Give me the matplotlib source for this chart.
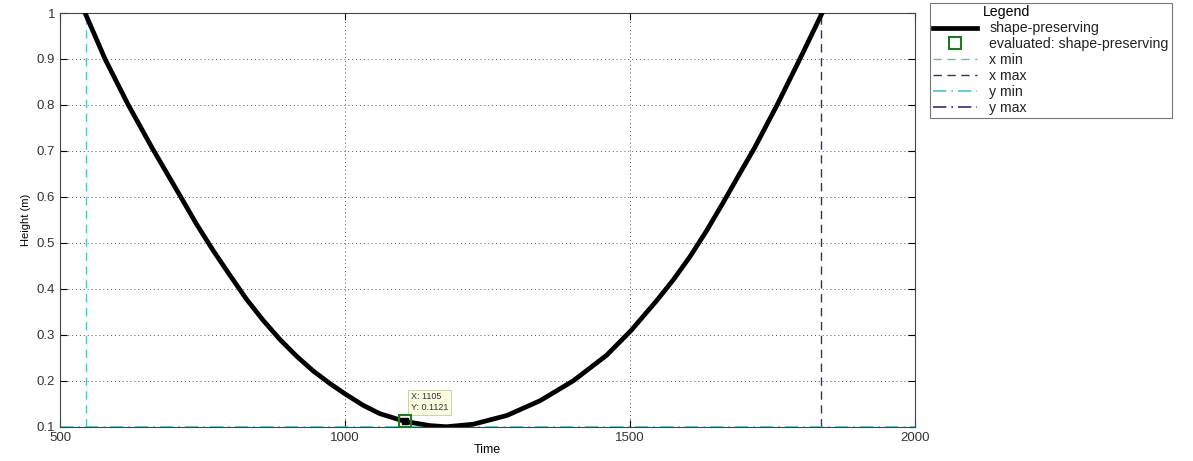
import matplotlib.pyplot as plt

plt.rcParams['font.family'] = ['Liberation Sans', 'DejaVu Sans']

# curve values
time = [544, 579, 619, 661, 710, 740, 769, 798, 827, 857, 886, 915, 944, 974,
        1000, 1032, 1061, 1105, 1149, 1178, 1225, 1284, 1342, 1400, 1459, 1502,
        1547, 1576, 1605, 1634, 1663, 1692, 1719, 1758, 1798, 1837]
height = [1.0, 0.9, 0.802, 0.708, 0.604, 0.540, 0.483, 0.430, 0.378, 0.331, 0.290,
          0.254, 0.222, 0.194, 0.172, 0.147, 0.129, 0.1121, 0.103, 0.1005, 0.106,
          0.125, 0.157, 0.200, 0.256, 0.310, 0.375, 0.420, 0.470, 0.526, 0.587,
          0.650, 0.708, 0.800, 0.9, 1.0]

tip_x, tip_y = 1105, 0.1121
x_min, x_max = 545, 1835
y_min, y_max = 0.1, 1.0

xticks = [500, 1000, 1500, 2000]
yticks = [0.1, 0.2, 0.3, 0.4, 0.5, 0.6, 0.7, 0.8, 0.9, 1.0]
ytick_labels = ['0.1', '0.2', '0.3', '0.4', '0.5', '0.6', '0.7', '0.8', '0.9', '1']

cyan = '#52c1c9'
navy = '#2e2e80'

fig = plt.figure(figsize=(11.93, 4.61), dpi=100)
ax = fig.add_axes([0.0503, 0.0738, 0.7167, 0.898])

ax.plot(time, height, color='black', lw=3.4, label='shape-preserving', zorder=5,
        solid_joinstyle='round')
ax.plot([tip_x], [tip_y], ls='none', marker='s', ms=9, mfc='none', mec='#1e7a1e',
        mew=1.5, label='evaluated: shape-preserving', zorder=6)
ax.plot([tip_x], [tip_y], ls='none', marker='s', ms=5, color='black', zorder=7)
ax.axvline(x_min, color=cyan, ls=(0, (6, 4)), lw=1, label='x min')
ax.axvline(x_max, color=navy, ls=(0, (6, 4)), lw=1, label='x max')
ax.axhline(y_min, color=cyan, ls=(0, (8, 3, 1, 3)), lw=1.2, label='y min')
ax.axhline(y_max, color=navy, ls=(0, (8, 3, 1, 3)), lw=1.2, label='y max')

ax.annotate('X: 1105\nY: 0.1121', xy=(tip_x, tip_y), xytext=(1115, 0.133),
            fontsize=6.5, color='#333333', va='bottom', ha='left',
            bbox=dict(boxstyle='square,pad=0.3', fc='#fbfbe0', ec='#c8c8a8', lw=0.6))

ax.set_xlim(500, 2000)
ax.set_ylim(0.1, 1.0)
ax.set_xticks(xticks)
ax.set_yticks(yticks)
ax.set_yticklabels(ytick_labels)
ax.tick_params(direction='in', top=True, right=True, labelsize=9.5,
               labelcolor='#333333', length=5)
ax.grid(True, ls=(0, (1, 3)), color='#555555', lw=0.7)
ax.set_xlabel('Time', fontsize=9, labelpad=0)
ax.set_ylabel('Height (m)', fontsize=8, labelpad=4)
for s in ax.spines.values():
    s.set_color('#444444')

leg = ax.legend(loc='upper left', bbox_to_anchor=(1.0175, 1.025), title='Legend',
                fontsize=10.2, title_fontsize=10.2, frameon=True, fancybox=False,
                edgecolor='#555555', borderpad=0.2, labelspacing=0.14,
                handlelength=3.1, handletextpad=0.9, borderaxespad=0)
leg.get_frame().set_linewidth(0.8)
leg._legend_box.align = 'left'
leg.get_title().set_position((50, 0))
for t in leg.get_texts():
    t.set_color('#222222')

fig.savefig('out.png', dpi=100)
